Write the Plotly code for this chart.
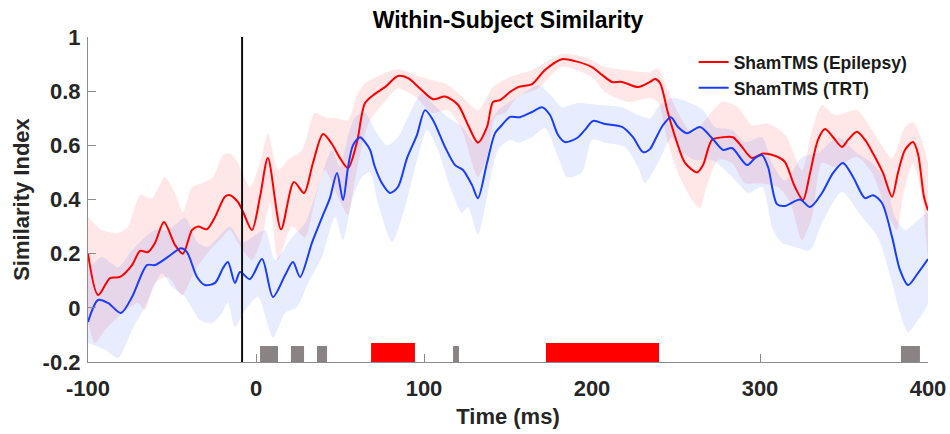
import plotly.graph_objects as go

# ---------------- data ----------------
red_t = [-100, -94, -86.9, -81, -73.8, -69, -64.3, -60.1, -54.8, -48.2, -43.5, -38.1, -34.5, -29.2, -24.4,
         -18.5, -15.5, -10.7, -7.7, -2.4, 2.4, 7.1, 14.9, 22.6, 28.6, 33.9, 39.9, 45.2, 50, 54.8, 60.1, 64.9,
         70.8, 76.8, 84.5, 90.5, 97.6, 105.4, 112.5, 120.2, 126.2, 132.1, 137.5, 141.1, 145.2, 151.2, 156,
         164.3, 172, 182.1, 189.9, 200, 206, 211.9, 217.9, 227.4, 234.5, 237.5, 240.5, 245.2, 250.6, 255.4,
         262.5, 266.1, 271.4, 278, 283.9, 289.3, 295.2, 301.8, 310.7, 314.9, 320.8, 325.6, 329.8, 334.5,
         338.7, 343.5, 348.8, 352.4, 357.7, 362.5, 367.3, 373.2, 378.6, 382.1, 386.3, 391.1, 394, 397.6, 400]
red_mean = [0.20, 0.047, 0.11, 0.114, 0.158, 0.21, 0.206, 0.24, 0.317, 0.232, 0.20, 0.287, 0.30, 0.29, 0.335,
            0.41, 0.416, 0.39, 0.354, 0.287, 0.41, 0.553, 0.29, 0.465, 0.424, 0.535, 0.642, 0.605, 0.553, 0.516,
            0.612, 0.756, 0.79, 0.815, 0.856, 0.848, 0.81, 0.77, 0.78, 0.75, 0.675, 0.61, 0.668, 0.76, 0.767,
            0.797, 0.815, 0.826, 0.878, 0.918, 0.911, 0.889, 0.86, 0.834, 0.834, 0.815, 0.834, 0.845, 0.83,
            0.72, 0.61, 0.535, 0.50, 0.527, 0.62, 0.63, 0.63, 0.594, 0.553, 0.57, 0.557, 0.538, 0.446, 0.398,
            0.498, 0.62, 0.66, 0.63, 0.594, 0.62, 0.65, 0.62, 0.57, 0.498, 0.41, 0.498, 0.583, 0.612, 0.57,
            0.41, 0.36]

blue_t = [-100, -94, -88.1, -80.4, -73.8, -64.9, -60.1, -52.4, -44.6, -41.1, -35.1, -30.4, -24.4, -19.6, -16.7,
          -12.5, -9.5, -3.6, 3.6, 10.1, 17.3, 22, 26.2, 33.3, 39.9, 44, 48.2, 51.8, 54.8, 57.7, 61.9, 64.9, 67.9,
          70.8, 75, 79.8, 84.5, 89.9, 95.8, 100.6, 105.4, 112.5, 118.5, 123.2, 128.6, 132.1, 137.5, 142.3,
          146.4, 151.2, 157.1, 164.3, 170.2, 175, 179.8, 183.9, 191.1, 195.8, 200.6, 207.7, 217.9, 224.4,
          230.4, 234.5, 237.5, 242.3, 247, 251.2, 256.5, 264.3, 271.4, 278, 283.3, 292.3, 297, 301.2, 304.8,
          310.1, 314.9, 323.8, 329.8, 336.9, 343.5, 349.4, 355.4, 362.5, 367.3, 372.6, 378.6, 383.3, 388.1,
          394, 400]
blue_mean = [-0.052, 0.029, 0.018, -0.019, 0.04, 0.158, 0.158, 0.188, 0.22, 0.206, 0.114, 0.084, 0.092, 0.147,
             0.169, 0.092, 0.132, 0.106, 0.18, 0.04, 0.12, 0.169, 0.114, 0.24, 0.343, 0.405, 0.498, 0.398, 0.52,
             0.60, 0.63, 0.612, 0.583, 0.52, 0.46, 0.424, 0.446, 0.553, 0.638, 0.73, 0.693, 0.594, 0.527, 0.509,
             0.453, 0.405, 0.535, 0.645, 0.675, 0.705, 0.704, 0.723, 0.741, 0.712, 0.638, 0.612, 0.627, 0.657,
             0.69, 0.679, 0.668, 0.63, 0.575, 0.586, 0.62, 0.675, 0.704, 0.668, 0.645, 0.668, 0.627, 0.583, 0.59,
             0.527, 0.553, 0.564, 0.52, 0.383, 0.376, 0.40, 0.372, 0.424, 0.498, 0.535, 0.483, 0.405, 0.416,
             0.387, 0.262, 0.14, 0.084, 0.128, 0.18]

red_upper_t = [-100, -91.7, -82.1, -76.2, -69, -61.9, -54.2, -48.2, -43.5, -38.1, -32.1, -25.6, -19.6, -15.5,
               -10.7, -3.6, 2.4, 7.1, 13.1, 19, 27.4, 35.1, 41.1, 48.2, 54.8, 60.1, 64.9, 67.9, 76.8, 84.5, 94.6,
               104.8, 114.3, 122.6, 132.1, 141.1, 151.2, 164.3, 182.1, 197.6, 207.7, 219.6, 234.5, 239.3, 245.2,
               251.2, 259.5, 267.3, 277.4, 286.9, 295.2, 304.8, 314.9, 325, 331, 336.9, 344.6, 357.7, 366.7,
               378.6, 386.3, 391.1, 400]
red_upper = [0.335, 0.287, 0.276, 0.30, 0.416, 0.405, 0.483, 0.424, 0.354, 0.446, 0.46, 0.483, 0.564, 0.57,
             0.535, 0.446, 0.535, 0.645, 0.509, 0.546, 0.583, 0.72, 0.704, 0.70, 0.693, 0.786, 0.83, 0.841,
             0.867, 0.882, 0.86, 0.841, 0.823, 0.78, 0.73, 0.815, 0.852, 0.878, 0.937, 0.922, 0.89, 0.878, 0.87,
             0.885, 0.804, 0.72, 0.645, 0.693, 0.76, 0.741, 0.675, 0.68, 0.64, 0.509, 0.657, 0.749, 0.712, 0.73,
             0.657, 0.553, 0.668, 0.686, 0.535]

red_lower_t = [-100, -95.8, -89.9, -82.1, -75, -70.2, -66.1, -60.1, -52.4, -44, -36.3, -27.4, -20.2, -15.5,
               -10.7, -2.4, 3.6, 8.3, 13.1, 21.4, 29.2, 35.1, 41.1, 48.8, 54.8, 58.9, 64.9, 67.9, 75, 84.5, 94.6,
               104.8, 114.3, 122.6, 132.1, 137.5, 142.3, 148.2, 156, 167.9, 182.1, 200, 207.7, 221.4, 234.5,
               239.3, 245.2, 251.2, 259.5, 264.3, 268.5, 275, 283.3, 291.1, 298.8, 310.7, 317.9, 325, 331, 336.9,
               344.6, 357.7, 366.7, 376.2, 381.5, 385.1, 391.1, 396.4, 400]
red_lower = [-0.05, -0.13, -0.082, -0.034, 0.003, 0.018, -0.008, 0.092, 0.114, 0.047, 0.14, 0.213, 0.26, 0.287,
             0.24, 0.177, 0.26, 0.387, 0.177, 0.30, 0.26, 0.398, 0.509, 0.41, 0.343, 0.472, 0.645, 0.693, 0.749,
             0.81, 0.78, 0.72, 0.73, 0.657, 0.483, 0.557, 0.704, 0.72, 0.78, 0.81, 0.89, 0.852, 0.797, 0.76,
             0.775, 0.76, 0.61, 0.498, 0.398, 0.369, 0.453, 0.546, 0.535, 0.46, 0.46, 0.446, 0.39, 0.25, 0.335,
             0.535, 0.52, 0.557, 0.498, 0.343, 0.287, 0.41, 0.535, 0.41, 0.187]

blue_upper_t = [-100, -91.7, -82.1, -73.8, -67.9, -60.1, -52.4, -42.3, -34.5, -28.6, -22.6, -15.5, -8.3, -2.4,
                5.4, 11.3, 21.4, 29.2, 36.9, 45.2, 50, 54.2, 58.9, 64.9, 70.8, 78, 84.5, 90.5, 98.8, 104.8, 112.5,
                122.6, 130.4, 137.5, 144, 151.2, 160.1, 167.9, 176.2, 182.1, 191.7, 203.6, 217.9, 227.4, 234.5,
                239.3, 247.6, 257.1, 266.1, 273.2, 283.3, 291.1, 301.2, 307.1, 314.9, 325, 334.5, 346.4, 357.7,
                366.7, 374.4, 380.4, 386.3, 394, 400]
blue_upper = [0.14, 0.188, 0.15, 0.213, 0.25, 0.287, 0.287, 0.332, 0.24, 0.225, 0.26, 0.30, 0.24, 0.26, 0.287,
              0.177, 0.26, 0.313, 0.446, 0.583, 0.52, 0.62, 0.704, 0.72, 0.657, 0.60, 0.63, 0.704, 0.793, 0.756,
              0.712, 0.668, 0.61, 0.668, 0.73, 0.76, 0.797, 0.823, 0.78, 0.741, 0.756, 0.749, 0.741, 0.712, 0.70,
              0.741, 0.775, 0.76, 0.73, 0.668, 0.657, 0.612, 0.63, 0.535, 0.47, 0.557, 0.572, 0.63, 0.572, 0.535,
              0.472, 0.335, 0.287, 0.324, 0.35]

blue_lower_t = [-100, -89.9, -82.1, -73.8, -66.1, -56, -50, -42.3, -33.3, -26.2, -20.2, -16.7, -12.5, -6.5, 1.2,
                10.1, 17.3, 24.4, 31, 39.3, 47, 51.8, 57.1, 63.1, 67.9, 72.6, 81, 88.7, 96.4, 101.8, 108.3, 115.5,
                122.6, 126.2, 132.1, 137.5, 144, 151.2, 156, 164.3, 172, 179.8, 185.1, 194, 200, 207.7, 219.6,
                227.4, 231.5, 239.3, 247.6, 253.6, 261.3, 271.4, 279.2, 286.9, 292.9, 301.2, 307.7, 313.1, 320.8,
                329.8, 336.9, 348.8, 360.7, 370.2, 378.6, 383.3, 388.1, 394, 400]
blue_lower = [-0.13, -0.155, -0.185, -0.082, 0.003, 0.128, 0.077, 0.04, -0.045, -0.056, -0.019, 0.02, -0.071,
              -0.008, 0.04, -0.11, -0.019, 0.003, 0.092, 0.188, 0.335, 0.25, 0.398, 0.483, 0.50, 0.387, 0.243,
              0.372, 0.557, 0.657, 0.583, 0.446, 0.35, 0.372, 0.269, 0.41, 0.583, 0.62, 0.61, 0.63, 0.664, 0.557,
              0.483, 0.50, 0.62, 0.61, 0.594, 0.52, 0.46, 0.535, 0.63, 0.572, 0.546, 0.546, 0.509, 0.46, 0.424,
              0.446, 0.287, 0.24, 0.225, 0.213, 0.313, 0.428, 0.335, 0.26, 0.092, -0.019, -0.09, -0.045, 0.018]

# significance markers (ms)
gray_start = [2.4, 20.8, 36.3, 117.3, 383.9]
gray_end = [13.1, 28.6, 42.3, 120.8, 395.2]
gray_top = -0.141
red_sig_start = [68.5, 172.6]
red_sig_end = [94.6, 239.9]
red_sig_top = -0.13
marker_time = -8.3

x_ticks = [-100, 0, 100, 200, 300, 400]
x_ticktext = ["-100", "0", "100", "200", "300", "400"]
y_ticks = [-0.2, 0, 0.2, 0.4, 0.6, 0.8, 1]
y_ticktext = ["-0.2", "0", "0.2", "0.4", "0.6", "0.8", "1"]

assert len(red_t) == len(red_mean)
assert len(blue_t) == len(blue_mean)
assert len(red_upper_t) == len(red_upper)
assert len(red_lower_t) == len(red_lower)
assert len(blue_upper_t) == len(blue_upper)
assert len(blue_lower_t) == len(blue_lower)

RED = "rgb(255,0,0)"
BLUE = "rgb(25,60,255)"
RED_BAND = "rgba(255,40,40,0.11)"
BLUE_BAND = "rgba(40,80,255,0.11)"
FONT = "Liberation Sans, Arial, sans-serif"

fig = go.Figure()


def band(tu, vu, tl, vl, color):
    return go.Scatter(x=list(tu) + list(tl)[::-1], y=list(vu) + list(vl)[::-1],
                      fill="toself", fillcolor=color, mode="lines",
                      line=dict(width=0, shape="spline", smoothing=0.7),
                      showlegend=False, hoverinfo="skip")


fig.add_trace(band(red_upper_t, red_upper, red_lower_t, red_lower, RED_BAND))
fig.add_trace(band(blue_upper_t, blue_upper, blue_lower_t, blue_lower, BLUE_BAND))
fig.add_trace(go.Scatter(x=red_t, y=red_mean, mode="lines", name="ShamTMS (Epilepsy)",
                         line=dict(color=RED, width=2, shape="spline", smoothing=0.8)))
fig.add_trace(go.Scatter(x=blue_t, y=blue_mean, mode="lines", name="ShamTMS (TRT)",
                         line=dict(color=BLUE, width=2, shape="spline", smoothing=0.8)))

shapes = []
for s, e in zip(gray_start, gray_end):
    shapes.append(dict(type="rect", xref="x", yref="y", x0=s, x1=e, y0=-0.2, y1=gray_top,
                       fillcolor="#8a8383", line=dict(width=0), layer="above"))
for s, e in zip(red_sig_start, red_sig_end):
    shapes.append(dict(type="rect", xref="x", yref="y", x0=s, x1=e, y0=-0.2, y1=red_sig_top,
                       fillcolor="#ff0000", line=dict(width=0), layer="above"))
shapes.append(dict(type="line", xref="x", yref="y", x0=marker_time, x1=marker_time, y0=-0.2, y1=1,
                   line=dict(color="#111111", width=2), layer="above"))

fig.update_layout(
    width=950, height=434,
    margin=dict(l=88, r=22, t=37, b=72, autoexpand=False),
    paper_bgcolor="white", plot_bgcolor="white",
    font=dict(family=FONT, color="#262626"),
    shapes=shapes,
    title=dict(text="Within-Subject Similarity", x=0.5, xref="paper", xanchor="center",
               y=1 - 12 / 434, yref="container", yanchor="top",
               font=dict(size=23, color="#000000", family=FONT, weight="bold")),
    legend=dict(x=0.721, xanchor="left", y=0.978, yanchor="top", bgcolor="rgba(0,0,0,0)",
                font=dict(size=17.5, color="#1a1a1a", family=FONT, weight="bold"),
                tracegroupgap=0),
    xaxis=dict(range=[-100, 400], tickvals=x_ticks, ticktext=x_ticktext, automargin=False,
               ticks="inside", ticklen=8, tickcolor="#8c8c8c", tickwidth=1,
               showline=True, linecolor="#8c8c8c", linewidth=1.2,
               showgrid=False, zeroline=False, ticklabelstandoff=6,
               tickfont=dict(size=22, family=FONT, weight="bold", color="#262626"),
               title=dict(text="Time (ms)", standoff=9,
                          font=dict(size=22, family=FONT, weight="bold", color="#262626"))),
    yaxis=dict(range=[-0.2, 1], tickvals=y_ticks, ticktext=y_ticktext, automargin=False,
               ticks="inside", ticklen=8, tickcolor="#8c8c8c", tickwidth=1,
               showline=True, linecolor="#8c8c8c", linewidth=1.2,
               showgrid=False, zeroline=False, ticklabelstandoff=2,
               tickfont=dict(size=22, family=FONT, weight="bold", color="#262626"),
               title=dict(text="Similarity Index", standoff=6,
                          font=dict(size=22, family=FONT, weight="bold", color="#262626"))),
)

# remove the browser's default page margin so the figure sits at the window's top-left corner
fig.write_html("out.html", config={"displayModeBar": False},
               post_script="document.body.style.margin='0px';")
